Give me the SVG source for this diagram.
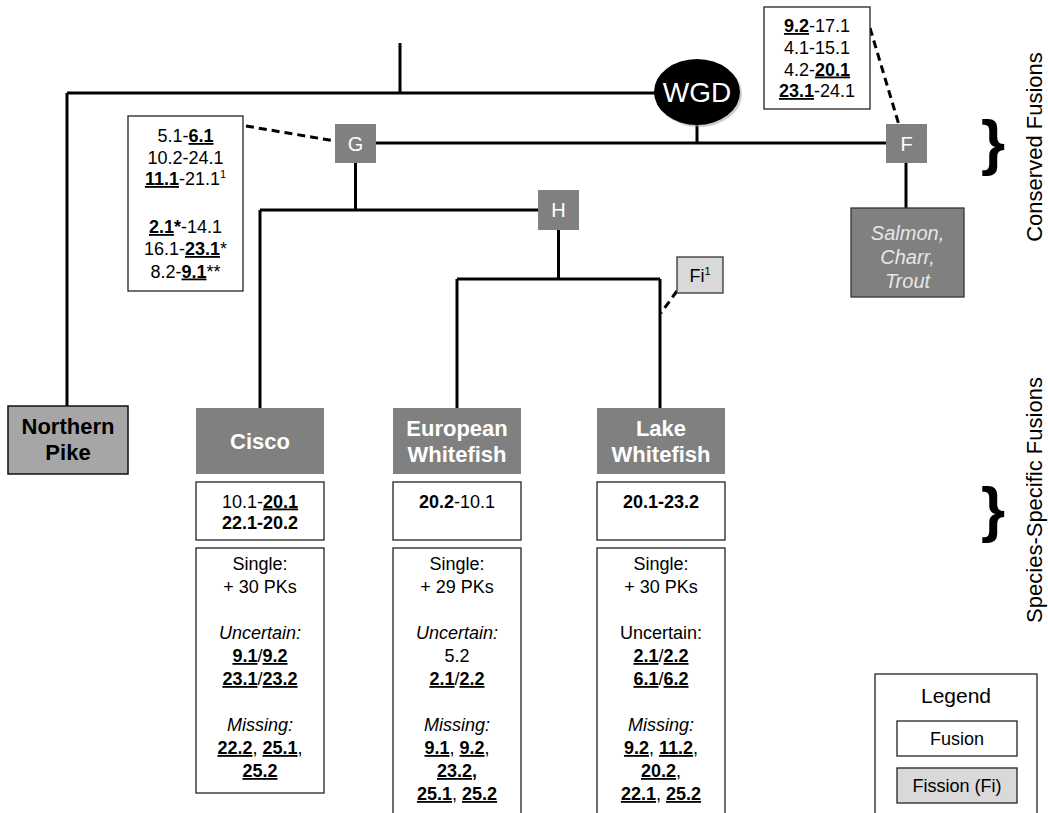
<svg xmlns="http://www.w3.org/2000/svg" width="1048" height="813" viewBox="0 0 1048 813">
<style>
text{font-family:"Liberation Sans",Arial,sans-serif;fill:#000}
.t{font-size:18px;text-anchor:middle}
.b{font-weight:bold}
.u{font-weight:bold;text-decoration:underline}
.i{font-style:italic}
.sp{font-size:11px}
.ln{stroke:#000;stroke-width:3;fill:none}
.dash{stroke:#000;stroke-width:3;fill:none;stroke-dasharray:8 5}
.box{fill:#fff;stroke:#222;stroke-width:1.3}
.dk{fill:#808080}
.wt{fill:#fff;font-weight:bold;font-size:22px;text-anchor:middle}
.nt{fill:#fff;font-size:20px;text-anchor:middle}
.side{font-size:22px;text-anchor:middle}
.brace{font-size:62px;font-weight:bold;text-anchor:middle}
</style>
<rect width="1048" height="813" fill="#fff"/>
<g id="connectors">
<path class="ln" d="M400,43 V93 M67,93 H656 M67,93 V406"/>
<path class="ln" d="M697,124 V143 M376,143 H886"/>
<path class="ln" d="M355.5,163 V210 M260,210 H538 M260,210 V408"/>
<path class="ln" d="M558.5,230 V279 M457,279 H660 M457,279 V408 M660,279 V408"/>
<path class="ln" d="M906,163 V208"/>
<path class="dash" d="M246,126 L335,141"/>
<path class="dash" d="M870,28 L899,125"/>
<path class="dash" d="M677,291 L661,313"/>
</g>
<g id="wgd">
<ellipse cx="699" cy="94" rx="43" ry="33" fill="#999" opacity="0.5"/>
<ellipse cx="697" cy="92" rx="43" ry="33" fill="#000"/>
<text x="697" y="102" style="fill:#fff;font-size:28px;text-anchor:middle">WGD</text>
</g>
<g id="nodeG">
<rect class="dk" x="335" y="124" width="41" height="39"/>
<text class="nt" x="355.5" y="151">G</text>
</g>
<g id="nodeH">
<rect class="dk" x="538" y="190" width="41" height="40"/>
<text class="nt" x="558.5" y="217">H</text>
</g>
<g id="nodeF">
<rect class="dk" x="886" y="124" width="41" height="39"/>
<text class="nt" x="906.5" y="151">F</text>
</g>
<g id="fi">
<rect x="677" y="257" width="46" height="36" fill="#d9d9d9" stroke="#333" stroke-width="1.3"/>
<text class="t" x="700" y="282">Fi<tspan class="sp" dy="-7">1</tspan></text>
</g>
<g id="salmon">
<rect x="851" y="208" width="113" height="89" fill="#808080" stroke="#333" stroke-width="1.3"/>
<text x="907.5" y="240" style="fill:#e6e6e6;font-size:20px;font-style:italic;text-anchor:middle">Salmon,</text>
<text x="907.5" y="264" style="fill:#e6e6e6;font-size:20px;font-style:italic;text-anchor:middle">Charr,</text>
<text x="907.5" y="288" style="fill:#e6e6e6;font-size:20px;font-style:italic;text-anchor:middle">Trout</text>
</g>
<g id="conservedG">
<rect class="box" x="128" y="116" width="115" height="175"/>
<text class="t" x="185.5" y="142">5.1-<tspan class="u">6.1</tspan></text>
<text class="t" x="185.5" y="163.5">10.2-24.1</text>
<text class="t" x="185.5" y="185"><tspan class="u">11.1</tspan>-21.1<tspan class="sp" dy="-7">1</tspan></text>
<text class="t" x="185.5" y="233"><tspan class="u">2.1</tspan><tspan class="b">*</tspan>-14.1</text>
<text class="t" x="185.5" y="255"><tspan>16.1-</tspan><tspan class="u">23.1</tspan>*</text>
<text class="t" x="185.5" y="277.5">8.2-<tspan class="u">9.1</tspan>**</text>
</g>
<g id="conservedF">
<rect class="box" x="764" y="7" width="106" height="102"/>
<text class="t" x="817" y="32"><tspan class="u">9.2</tspan>-17.1</text>
<text class="t" x="817" y="54">4.1-15.1</text>
<text class="t" x="817" y="75.5">4.2-<tspan class="u">20.1</tspan></text>
<text class="t" x="817" y="97"><tspan class="u">23.1</tspan>-24.1</text>
</g>
<g id="pike">
<rect x="8" y="406" width="120" height="68" fill="#a6a6a6" stroke="#111" stroke-width="1.5"/>
<text x="68" y="434" style="font-weight:bold;font-size:22px;text-anchor:middle">Northern</text>
<text x="68" y="460" style="font-weight:bold;font-size:22px;text-anchor:middle">Pike</text>
</g>
<g id="cisco">
<rect class="dk" x="196" y="408" width="128" height="66"/>
<text class="wt" x="260" y="449">Cisco</text>
<rect class="box" x="196" y="482" width="128" height="58"/>
<text class="t" x="260" y="507.5">10.1-<tspan class="u">20.1</tspan></text>
<text class="t b" x="260" y="529">22.1-20.2</text>
<rect class="box" x="196" y="548" width="128" height="245"/>
<text class="t" x="260" y="570">Single:</text>
<text class="t" x="260" y="593">+ 30 PKs</text>
<text class="t i" x="260" y="639">Uncertain:</text>
<text class="t" x="260" y="662"><tspan class="u">9.1</tspan>/<tspan class="u">9.2</tspan></text>
<text class="t" x="260" y="685"><tspan class="u">23.1</tspan>/<tspan class="u">23.2</tspan></text>
<text class="t i" x="260" y="731">Missing:</text>
<text class="t" x="260" y="754"><tspan class="u">22.2</tspan>, <tspan class="u">25.1</tspan>,</text>
<text class="t" x="260" y="777"><tspan class="u">25.2</tspan></text>
</g>
<g id="european">
<rect class="dk" x="393" y="408" width="128" height="66"/>
<text class="wt" x="457" y="436">European</text>
<text class="wt" x="457" y="462">Whitefish</text>
<rect class="box" x="393" y="482" width="128" height="58"/>
<text class="t" x="457" y="507.5"><tspan class="b">20.2</tspan>-10.1</text>
<rect class="box" x="393" y="548" width="128" height="270"/>
<text class="t" x="457" y="570">Single:</text>
<text class="t" x="457" y="593">+ 29 PKs</text>
<text class="t i" x="457" y="639">Uncertain:</text>
<text class="t" x="457" y="662">5.2</text>
<text class="t" x="457" y="685"><tspan class="u">2.1</tspan>/<tspan class="u">2.2</tspan></text>
<text class="t i" x="457" y="731">Missing:</text>
<text class="t" x="457" y="754"><tspan class="u">9.1</tspan>, <tspan class="u">9.2</tspan>,</text>
<text class="t" x="457" y="777"><tspan class="u">23.2,</tspan></text>
<text class="t" x="457" y="800"><tspan class="u">25.1</tspan>, <tspan class="u">25.2</tspan></text>
</g>
<g id="lake">
<rect class="dk" x="597" y="408" width="128" height="66"/>
<text class="wt" x="661" y="436">Lake</text>
<text class="wt" x="661" y="462">Whitefish</text>
<rect class="box" x="597" y="482" width="128" height="58"/>
<text class="t b" x="661" y="507.5">20.1-23.2</text>
<rect class="box" x="597" y="548" width="128" height="270"/>
<text class="t" x="661" y="570">Single:</text>
<text class="t" x="661" y="593">+ 30 PKs</text>
<text class="t" x="661" y="639">Uncertain:</text>
<text class="t" x="661" y="662"><tspan class="u">2.1</tspan>/<tspan class="u">2.2</tspan></text>
<text class="t" x="661" y="685"><tspan class="u">6.1</tspan>/<tspan class="u">6.2</tspan></text>
<text class="t i" x="661" y="731">Missing:</text>
<text class="t" x="661" y="754"><tspan class="u">9.2</tspan>, <tspan class="u">11.2</tspan>,</text>
<text class="t" x="661" y="777"><tspan class="u">20.2</tspan>,</text>
<text class="t" x="661" y="800"><tspan class="u">22.1</tspan>, <tspan class="u">25.2</tspan></text>
</g>
<g id="side-labels">
<text class="brace" x="993" y="163">}</text>
<text class="brace" x="993" y="530">}</text>
<text class="side" transform="translate(1042,147) rotate(-90)">Conserved Fusions</text>
<text class="side" transform="translate(1042,500) rotate(-90)">Species-Specific Fusions</text>
</g>
<g id="legend">
<rect class="box" x="875" y="674" width="162" height="145"/>
<text x="956" y="703" style="font-size:21px;text-anchor:middle">Legend</text>
<rect class="box" x="897" y="721" width="120" height="35"/>
<text class="t" x="957" y="745">Fusion</text>
<rect x="897" y="768" width="120" height="35" fill="#d9d9d9" stroke="#222" stroke-width="1.3"/>
<text class="t" x="957" y="792">Fission (Fi)</text>
</g>
</svg>
